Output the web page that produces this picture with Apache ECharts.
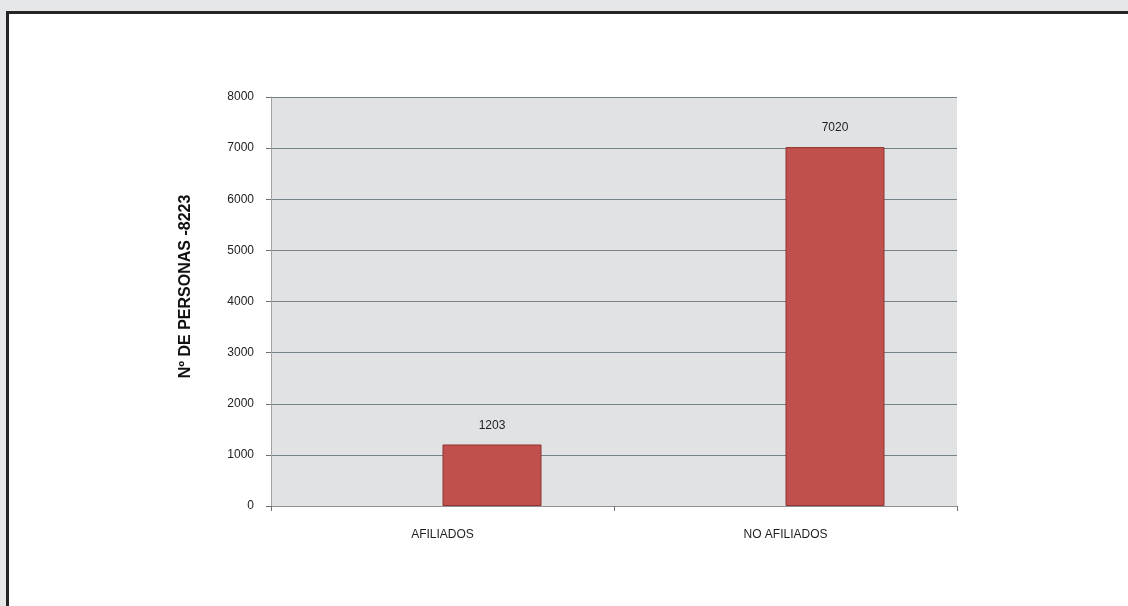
<!doctype html>
<html lang="es">
<head>
<meta charset="UTF-8">
<title>Afiliados</title>
<style>
  html, body { margin: 0; padding: 0; background: #e6e7e9; }
  #main { width: 1128px; height: 606px; }
</style>
</head>
<body>
<div id="main"></div>
<script src="https://cdn.jsdelivr.net/npm/echarts@6/dist/echarts.min.js"></script>
<script>
var categories = ['AFILIADOS', 'NO AFILIADOS'];
var personas = [1203, 7020];
var vacio = [null, null]; // serie vacía: Excel deja el hueco a la izquierda
var yTicks = { min: 0, max: 8000, interval: 1000 };
var yName = 'Nº DE PERSONAS -8223';

var chart = echarts.init(document.getElementById('main'));

var option = {
    backgroundColor: '#e6e7e9',
    animation: false,
    graphic: [{
        type: 'rect',
        z: -10,
        shape: { x: 7.5, y: 12.5, width: 1130, height: 600 },
        style: { fill: '#ffffff', stroke: '#262425', lineWidth: 3 }
    }],
    grid: {
        left: 271,
        top: 97,
        right: 171,
        bottom: 100,
        show: true,
        backgroundColor: '#e1e2e4',
        borderWidth: 0
    },
    xAxis: {
        type: 'category',
        data: categories,
        axisLine: { lineStyle: { color: '#8d9195', width: 1 } },
        axisTick: { show: true, length: 5, lineStyle: { color: '#6d7175' } },
        axisLabel: {
            margin: 23,
            color: '#1f1f1f',
            fontFamily: 'Liberation Sans, Arial',
            fontSize: 12
        }
    },
    yAxis: {
        type: 'value',
        min: yTicks.min,
        max: yTicks.max,
        interval: yTicks.interval,
        name: yName,
        nameLocation: 'middle',
        nameRotate: 90,
        nameGap: 77,
        nameTextStyle: {
            color: '#111',
            fontWeight: 'bold',
            fontFamily: 'Liberation Sans, Arial',
            fontSize: 16,
            padding: [0, 0, 0, 30]
        },
        axisLine: { show: true, lineStyle: { color: '#9ea3a7', width: 1 } },
        axisTick: { show: true, length: 5, lineStyle: { color: '#6d7175' } },
        axisLabel: {
            margin: 17,
            color: '#222',
            fontFamily: 'Liberation Sans, Arial',
            fontSize: 12,
            formatter: function (v) { return String(v); }
        },
        splitLine: { lineStyle: { color: '#76828a', width: 1 } }
    },
    series: [{
        name: 'vacio',
        type: 'bar',
        data: vacio,
        barWidth: 99,
        barGap: '0%'
    }, {
        name: 'personas',
        type: 'bar',
        data: personas,
        barWidth: 99,
        barGap: '0%',
        itemStyle: {
            color: '#c0504d',
            borderColor: '#8e3431',
            borderWidth: 1
        },
        label: {
            show: true,
            position: 'top',
            distance: 13,
            color: '#222',
            fontFamily: 'Liberation Sans, Arial',
            fontSize: 12
        }
    }]
};

chart.setOption(option);
</script>
</body>
</html>
